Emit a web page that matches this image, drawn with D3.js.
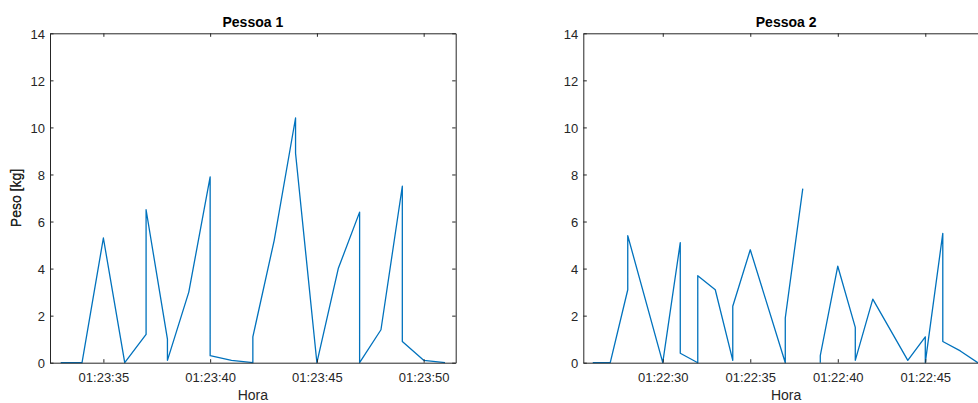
<!DOCTYPE html>
<html>
<head>
<meta charset="utf-8">
<script src="https://cdn.jsdelivr.net/npm/d3@7"></script>
<style>
	body { margin: 0; background: #fff; }
	svg { display: block; font-family: "Liberation Sans", Arial, sans-serif; }
</style>
</head>
<body>
<div id="chart"></div>
<script>
//Pessoa 1 samples (repeated times = two readings in the same second)
const p1Times = ["01:23:33","01:23:34","01:23:35","01:23:36","01:23:37","01:23:37","01:23:38","01:23:38","01:23:39","01:23:40","01:23:40","01:23:41","01:23:42","01:23:42","01:23:43","01:23:44","01:23:44","01:23:45","01:23:46","01:23:47","01:23:47","01:23:48","01:23:49","01:23:49","01:23:50","01:23:51"];
const p1Peso = [0,0,5.3,0,1.2,6.5,1.0,0.1,3.0,7.9,0.3,0.1,0,1.1,5.2,10.4,8.9,0,4.0,6.4,0,1.4,7.5,0.9,0.1,0];
const p1Ticks = ["01:23:35","01:23:40","01:23:45","01:23:50"];
const p1Lim = ["01:23:32.5","01:23:51.5"];

//Pessoa 2 samples (null = missing reading, line is broken)
const p2Times = ["01:22:26","01:22:27","01:22:28","01:22:28","01:22:30","01:22:31","01:22:31","01:22:32","01:22:32","01:22:33","01:22:34","01:22:34","01:22:35","01:22:37","01:22:37","01:22:38","01:22:39","01:22:39","01:22:39","01:22:40","01:22:41","01:22:41","01:22:42","01:22:44","01:22:45","01:22:45","01:22:46","01:22:46","01:22:47","01:22:48"];
const p2Peso = [0,0,3.1,5.4,0,5.1,0.4,0,3.7,3.1,0.1,2.4,4.8,0,1.9,7.4,null,0,0.3,4.1,1.5,0.1,2.7,0.1,1.1,0,5.5,0.9,0.5,0];
const p2Ticks = ["01:22:30","01:22:35","01:22:40","01:22:45"];
const p2Lim = ["01:22:25.46","01:22:48.64"];

const yTicks = [0,2,4,6,8,10,12,14];

const W = 978, H = 403;
const svg = d3.select('#chart').append('svg')
	.attr('width', W)
	.attr('height', H);

const parse = function(s){
	const p = s.split(':');
	return new Date(2000, 0, 1, +p[0], +p[1], 0, Math.round(parseFloat(p[2]) * 1000));
};
const fmt = d3.timeFormat('%H:%M:%S');

renderPanel(svg, 'Pessoa 1', p1Times, p1Peso, p1Ticks, p1Lim, 50, 33.3);
renderPanel(svg, 'Pessoa 2', p2Times, p2Peso, p2Ticks, p2Lim, 583.3, 33.3);

function renderPanel(root, title, times, peso, ticks, lim, left, top){
	const w = 405.7, h = 329.4;
	const axisColor = '#262626';

	const g = root.append('g').attr('transform', `translate(${left},${top})`);

	const x = d3.scaleTime().domain(lim.map(parse)).range([0, w]);
	const y = d3.scaleLinear().domain([0, 14]).range([h, 0]);

	const data = times.map(function(t, i){ return {t: parse(t), v: peso[i]}; });

	//Line
	const line = d3.line()
		.defined(function(d){ return d.v !== null; })
		.x(function(d){ return x(d.t); })
		.y(function(d){ return y(d.v); });

	g.append('path')
		.datum(data)
		.attr('d', line)
		.style('fill', 'none')
		.style('stroke', '#0072BD')
		.style('stroke-width', '1.3px')
		.style('stroke-linejoin', 'round');

	//Axes, ticks pointing inward
	const tickVals = ticks.map(parse);
	const bottom = g.append('g')
		.attr('transform', `translate(0,${h})`)
		.call(d3.axisBottom(x).tickValues(tickVals).tickFormat(fmt).tickSizeInner(-3.5).tickSizeOuter(0).tickPadding(10));
	const topAx = g.append('g')
		.call(d3.axisTop(x).tickValues(tickVals).tickFormat('').tickSizeInner(-3.5).tickSizeOuter(0));
	const leftAx = g.append('g')
		.call(d3.axisLeft(y).tickValues(yTicks).tickSizeInner(-3.5).tickSizeOuter(0).tickPadding(5));
	const rightAx = g.append('g')
		.attr('transform', `translate(${w},0)`)
		.call(d3.axisRight(y).tickValues(yTicks).tickFormat('').tickSizeInner(-3.5).tickSizeOuter(0));

	[bottom, topAx, leftAx, rightAx].forEach(function(a){
		a.select('.domain').style('stroke', axisColor);
		a.selectAll('.tick line').style('stroke', axisColor);
		a.selectAll('.tick text')
			.style('fill', axisColor)
			.style('font-size', '13px')
			.style('font-family', '"Liberation Sans", Arial, sans-serif');
	});
	leftAx.selectAll('.tick text').attr('dy', '0.38em');

	//Title and labels
	g.append('text')
		.attr('x', w / 2)
		.attr('y', -6.6)
		.attr('text-anchor', 'middle')
		.style('font-size', '14px')
		.style('font-weight', 'bold')
		.style('fill', '#000')
		.text(title);

	g.append('text')
		.attr('x', w / 2)
		.attr('y', h + 37.5)
		.attr('text-anchor', 'middle')
		.style('font-size', '14px')
		.style('fill', axisColor)
		.text('Hora');

	g.append('text')
		.attr('transform', `translate(${-left + 21},${h / 2}) rotate(-90)`)
		.attr('text-anchor', 'middle')
		.style('font-size', '14px')
		.style('fill', axisColor)
		.text('Peso [kg]');
}
</script>
</body>
</html>
